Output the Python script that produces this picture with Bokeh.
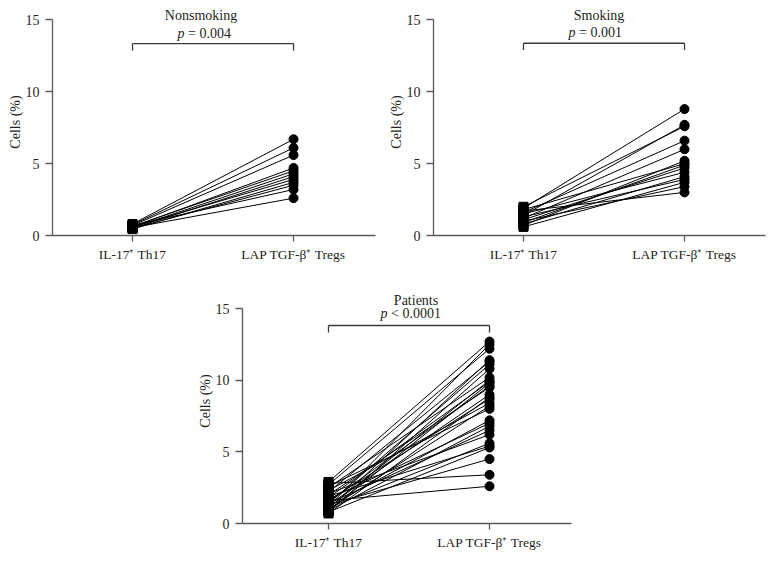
from bokeh.plotting import figure
from bokeh.models import Range1d, FixedTicker, Spacer, ColumnDataSource
from bokeh.layouts import column, row
from bokeh.embed import file_html
from bokeh.resources import INLINE
from bokeh.core.properties import value

# ---------------- data ----------------
categories = ["IL-17\u207a Th17", "LAP TGF-\u03b2\u207a Tregs"]
y_ticks = [0, 5, 10, 15]

titles = ["Nonsmoking", "Smoking", "Patients"]
p_ops = ["\u00a0= 0.004", "\u00a0= 0.001", "\u00a0< 0.0001"]

nonsmoking_th17 = [0.80, 0.75, 0.70, 0.60, 0.65, 0.55, 0.50, 0.60, 0.45, 0.50, 0.70, 0.55]
nonsmoking_tregs = [6.7, 6.1, 5.6, 4.7, 4.5, 4.3, 4.1, 3.9, 3.7, 3.5, 3.2, 2.6]

smoking_th17 = [1.9, 1.4, 2.0, 1.6, 1.2, 0.7, 1.8, 0.9, 1.1, 1.5, 0.8, 1.3, 0.6, 1.0, 1.7]
smoking_tregs = [8.8, 7.7, 7.6, 6.6, 6.0, 5.2, 5.0, 4.9, 4.7, 4.4, 4.1, 3.9, 3.7, 3.4, 3.0]

patients_th17 = [2.9, 1.2, 2.7, 1.0, 2.2, 1.4, 0.8, 2.5, 1.1, 1.8, 0.9, 1.5, 2.0, 1.3, 0.7,
                 1.6, 2.3, 1.0, 2.6, 1.2, 1.7, 0.9, 1.4, 2.1, 1.1, 1.9, 0.8, 1.3, 2.8, 1.6]
patients_tregs = [12.7, 12.5, 12.2, 11.4, 11.3, 11.1, 10.8, 10.2, 10.0, 9.9, 9.8, 9.6, 9.5, 9.0, 8.8,
                  8.7, 8.4, 8.2, 8.0, 7.2, 7.0, 6.8, 6.5, 6.2, 5.6, 5.4, 5.3, 4.5, 3.4, 2.6]

# ---------------- style ----------------
FONT = "Liberation Serif"
TXT = "#231f20"
AX = "#5a5a5a"
LEFT = 48


def panel(title, p_op, th17, tregs, width, height, bottom, right, x_start, x_end, ymax,
          y_title, y_p, y_br, y_br_end, title_dx, p_dx, p_w):
    p = figure(width=width, height=height, output_backend="svg", toolbar_location=None,
               x_range=Range1d(x_start, x_end), y_range=Range1d(0, ymax),
               min_border_left=LEFT, min_border_right=right, min_border_top=0,
               min_border_bottom=bottom, outline_line_color=None,
               background_fill_color="white", border_fill_color="white")
    p.xgrid.visible = False
    p.ygrid.visible = False

    # axes
    p.yaxis.ticker = FixedTicker(ticks=y_ticks)
    p.yaxis.bounds = (0, 15)
    p.yaxis.axis_label = "Cells (%)"
    p.xaxis.ticker = FixedTicker(ticks=[1, 2])
    p.xaxis.major_label_overrides = {1: categories[0], 2: categories[1]}
    for ax in (p.xaxis, p.yaxis):
        ax.axis_line_color = AX
        ax.axis_line_width = 1.3
        ax.major_tick_line_color = AX
        ax.major_tick_line_width = 1.3
        ax.major_tick_in = 0
        ax.minor_tick_line_color = None
        ax.major_label_text_font = FONT
        ax.major_label_text_color = TXT
        ax.axis_label_text_font = FONT
        ax.axis_label_text_color = TXT
        ax.axis_label_text_font_style = "normal"
    p.yaxis.major_tick_out = 7
    p.yaxis.major_label_standoff = 6
    p.yaxis.major_label_text_font_size = "14px"
    p.yaxis.axis_label_text_font_size = "14px"
    p.yaxis.axis_label_standoff = 0
    p.xaxis.major_tick_out = 6
    p.xaxis.major_label_standoff = 5
    p.xaxis.major_label_text_font_size = "13.5px"

    # connecting lines and markers
    src = ColumnDataSource(dict(x0=[1] * len(th17), x1=[2] * len(tregs), y0=th17, y1=tregs))
    p.segment(x0="x0", y0="y0", x1="x1", y1="y1", source=src, line_color="black", line_width=1)
    p.scatter(x="x0", y="y0", source=src, marker="square", size=9, color="black")
    p.scatter(x="x1", y="y1", source=src, marker="circle", size=9, color="black")

    # bracket
    p.line(x=[1, 2], y=[y_br, y_br], line_color="#3a3a3a", line_width=1.3)
    p.segment(x0=[1, 2], y0=[y_br, y_br], x1=[1, 2], y1=[y_br_end, y_br_end],
              line_color="#3a3a3a", line_width=1.3)

    # title and p-value
    p.text(x=[1.5], y=[y_title], text=[title], text_font=value(FONT), text_font_size="14px",
           text_color=TXT, text_align="center", text_baseline="middle", x_offset=title_dx)
    o = p_dx - p_w / 2 + 7
    p.text(x=[1.5], y=[y_p], text=["p"], text_font=value(FONT), text_font_size="14px",
           text_font_style="italic", text_color=TXT, text_align="right",
           text_baseline="middle", x_offset=o)
    p.text(x=[1.5], y=[y_p], text=[p_op], text_font=value(FONT), text_font_size="14px",
           text_color=TXT, text_align="left", text_baseline="middle", x_offset=o)
    return p


p1 = panel(titles[0], p_ops[0], nonsmoking_th17, nonsmoking_tregs, LEFT + 323 + 10, 270, 43, 10,
           0.503, 2.509, 15.80, 15.31, 14.06, 13.36, 12.87, -12, -9, 53)
p2 = panel(titles[1], p_ops[1], smoking_th17, smoking_tregs, LEFT + 332 + 1, 270, 43, 1,
           0.441, 2.503, 15.80, 15.31, 14.15, 13.38, 12.91, -5, -9, 53)
p3 = panel(titles[2], p_ops[2], patients_th17, patients_tregs, LEFT + 329 + 10, 278, 33, 10,
           0.466, 2.509, 17.10, 15.56, 14.63, 13.82, 13.33, 7, 5, 67)

layout = row(Spacer(width=52 - LEFT, height=10),
             column(Spacer(width=10, height=8),
                    row(p1, p2),
                    row(Spacer(width=242 - (52 - LEFT) - LEFT, height=278), p3)))

open("out.html", "w").write(file_html(layout, INLINE))
